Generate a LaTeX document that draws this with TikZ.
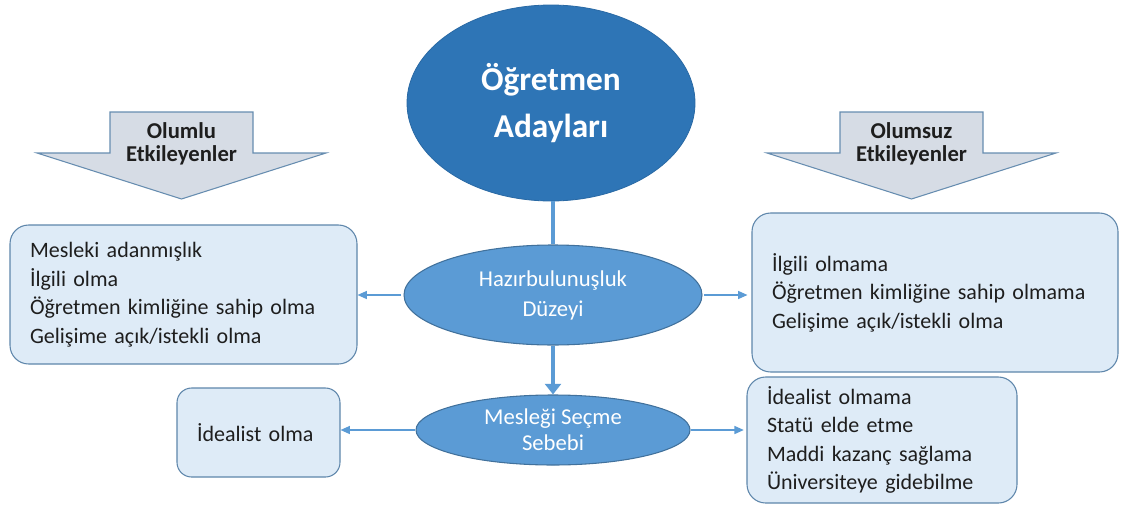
\documentclass[tikz,border=0pt]{standalone}
\usepackage{fontspec}
\setmainfont{Carlito}
\usetikzlibrary{arrows.meta,shapes.geometric}
\definecolor{dblue}{HTML}{2E75B6}
\definecolor{mblue}{HTML}{5B9BD5}
\definecolor{eblue}{HTML}{41719C}
\definecolor{boxfill}{HTML}{DEEBF7}
\definecolor{arrfill}{HTML}{D6DCE5}
\definecolor{txt}{HTML}{1E1E1E}
\begin{document}
\begin{tikzpicture}[x=0.75pt,y=-0.75pt,
  mainell/.style={ellipse,fill=dblue,draw=dblue!90!black,line width=0.6pt,inner sep=0pt,
    minimum width=216pt,minimum height=147pt,text=white,align=center,
    font=\fontsize{25}{35}\selectfont\bfseries},
  subell/.style={ellipse,fill=mblue,draw=eblue,line width=0.8pt,inner sep=0pt,text=white,align=center},
  infobox/.style={rectangle,rounded corners=14pt,fill=boxfill,draw=eblue!85,line width=0.8pt,
    inner xsep=15pt,inner ysep=0pt,align=left,text=txt,
    font=\fontsize{16.5}{21.4}\selectfont},
  blockarrow/.style={fill=arrfill,draw=eblue!80,line width=0.8pt,line join=miter},
  arrlabel/.style={align=center,text=txt,font=\fontsize{17}{17.3}\selectfont\bfseries},
  conn/.style={draw=mblue,line width=1pt,-{Triangle[length=7pt,width=6pt]}},
  trunk/.style={draw=mblue,line width=3.6pt}
]
\useasboundingbox (0,0) rectangle (1121,507);

% block arrows
\draw[blockarrow] (110,112)--(253,112)--(253,153)--(326,153)--(181.5,199)--(37,153)--(110,153)--cycle;
\node[arrlabel] (pos) at (181.5,143.5) {Olumlu\\Etkileyenler};
\draw[blockarrow] (840,112)--(983,112)--(983,153)--(1056,153)--(911.5,199)--(767,153)--(840,153)--cycle;
\node[arrlabel] (neg) at (911.5,143.5) {Olumsuz\\Etkileyenler};

% ellipses
\node[mainell] (main) at (551,103) {Öğretmen\\Adayları};
\node[subell,minimum width=223.5pt,minimum height=75pt,
  font=\fontsize{17}{22.5}\selectfont] (haz) at (553,295) {Hazırbulunuşluk\\Düzeyi};
\node[subell,minimum width=205.5pt,minimum height=52.5pt,
  font=\fontsize{17}{19.5}\selectfont] (mes) at (553,430) {Mesleği Seçme\\Sebebi};

% boxes
\node[infobox,minimum width=260.25pt,minimum height=104.25pt,text width=230.25pt] (l1) at (183.5,294.5)
 {Mesleki adanmışlık\\İlgili olma\\Öğretmen kimliğine sahip olma\\Gelişime açık/istekli olma};
\node[infobox,minimum width=274.5pt,minimum height=119.25pt,text width=244.5pt] (r1) at (935,292.5)
 {İlgili olmama\\Öğretmen kimliğine sahip olmama\\Gelişime açık/istekli olma};
\node[infobox,rounded corners=11pt,minimum width=122.25pt,minimum height=66.75pt,text width=92.25pt] (l2) at (258.5,432.5)
 {İdealist olma};
\node[infobox,minimum width=202.5pt,minimum height=94.5pt,text width=172.5pt] (r2) at (882,440)
 {İdealist olmama\\Statü elde etme\\Maddi kazanç sağlama\\Üniversiteye gidebilme};

% connectors
\draw[trunk] (main.south -| haz.north) -- (haz.north);
\draw[trunk,-{Triangle[length=8pt,width=12pt]}] (haz.south) -- (mes.north);
\draw[conn,shorten <=2pt] (haz.west) -- (haz.west -| l1.east);
\draw[conn,shorten <=1pt,shorten >=3pt] (haz.east) -- (haz.east -| r1.west);
\draw[conn] (mes.west) -- (mes.west -| l2.east);
\draw[conn,shorten >=2pt] (mes.east) -- (mes.east -| r2.west);
\end{tikzpicture}
\end{document}
